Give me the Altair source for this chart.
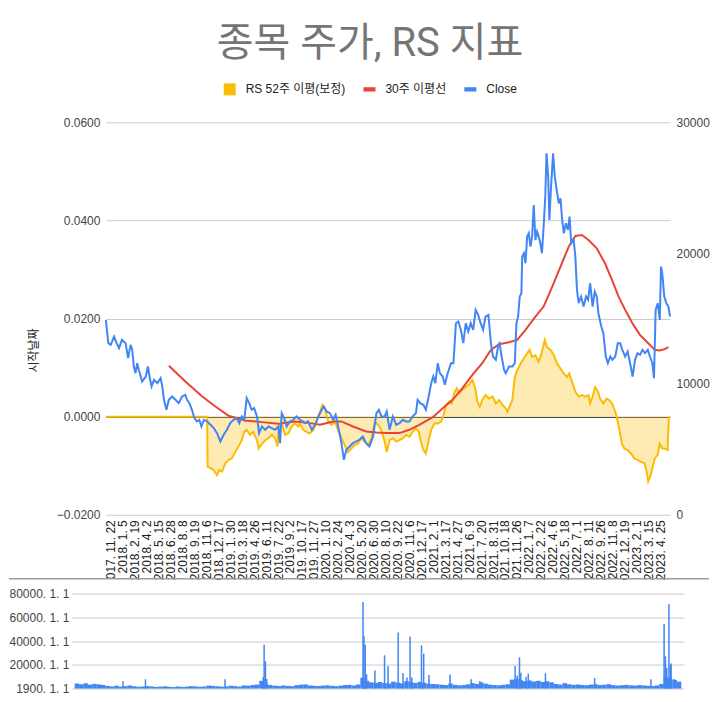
import altair as alt
import pandas as pd

TITLE = "종목 주가, RS 지표"
series_names = ["RS 52주 이평(보정)", "30주 이평선", "Close"]
series_colors = ["#fbbc04", "#ea4335", "#4285f4"]
legend_shapes = ["M-1,-1H1V1H-1Z", "M-1,-0.36H1V0.36H-1Z", "M-1,-0.36H1V0.36H-1Z"]

x_labels = ["2017. 11. 22", "2018. 1. 5", "2018. 2. 19", "2018. 4. 2", "2018. 5. 15", "2018. 6. 28",
            "2018. 8. 8", "2018. 9. 19", "2018. 11. 6", "2018. 12. 17", "2019. 1. 30", "2019. 3. 18",
            "2019. 4. 26", "2019. 6. 11", "2019. 7. 22", "2019. 9. 2", "2019. 10. 17", "2019. 11. 27",
            "2020. 1. 10", "2020. 2. 24", "2020. 4. 3", "2020. 5. 20", "2020. 6. 30", "2020. 8. 10",
            "2020. 9. 22", "2020. 11. 6", "2020. 12. 17", "2021. 2. 1", "2021. 3. 17", "2021. 4. 27",
            "2021. 6. 9", "2021. 7. 20", "2021. 8. 31", "2021. 10. 18", "2021. 11. 26", "2022. 1. 7",
            "2022. 2. 22", "2022. 4. 6", "2022. 5. 18", "2022. 7. 1", "2022. 8. 11", "2022. 9. 26",
            "2022. 11. 8", "2022. 12. 19", "2023. 2. 1", "2023. 3. 15", "2023. 4. 25"]
LABEL_STEP = 29      # trading days between axis labels
N_DAYS = 1370        # trading days shown

rs_ticks = [-0.02, 0.0, 0.02, 0.04, 0.06]
close_ticks = [0, 10000, 20000, 30000]
vol_ticks = [0, 20000, 40000, 60000, 80000]
vol_tick_labels = ["1900. 1. 1", "20000. 1. 1", "40000. 1. 1", "60000. 1. 1", "80000. 1. 1"]

# (trading day, close)
close_points = [
    (0, 14898), (6, 13116), (12, 12989), (20, 13625), (26, 13116), (32, 12734), (39, 13371), (48, 13116),
    (54, 11970), (60, 12989), (64, 12607), (68, 11334), (72, 10825), (76, 11588), (80, 11079), (88, 10188),
    (97, 10570), (102, 11334), (106, 10570), (111, 9806), (117, 10315), (125, 10061), (133, 10443), (137, 9806),
    (141, 8788), (147, 8024), (153, 8788), (161, 9042), (169, 8788), (177, 8533), (185, 9042), (193, 9170),
    (197, 8788), (203, 8533), (209, 8024), (215, 7388), (221, 7133), (227, 7260), (232, 6751), (238, 7260),
    (246, 7133), (254, 6879), (262, 6624), (270, 6242), (278, 5605), (286, 6113), (294, 6496), (302, 7006),
    (310, 7260), (318, 7388), (324, 7006), (330, 7515), (336, 7260), (342, 8915), (348, 8533), (354, 8024),
    (360, 8151), (367, 7515), (372, 6242), (379, 6751), (387, 6496), (395, 6751), (403, 6624), (411, 6496),
    (419, 6751), (423, 5478), (427, 7769), (433, 7388), (439, 6751), (447, 7133), (455, 7260), (463, 7515),
    (471, 7260), (479, 7133), (483, 7006), (491, 7133), (500, 6496), (508, 6879), (516, 7515), (524, 8024),
    (529, 8279), (536, 7897), (544, 7769), (552, 7260), (558, 7642), (564, 6751), (572, 5478), (578, 4205),
    (584, 4969), (592, 5223), (600, 5478), (608, 5605), (616, 5733), (624, 5987), (632, 5478), (640, 5223),
    (649, 5987), (657, 7769), (663, 8024), (669, 7515), (677, 7515), (682, 7897), (689, 6496), (697, 7515),
    (705, 6879), (713, 7006), (721, 7260), (729, 7133), (737, 7133), (745, 7515), (753, 7769), (757, 8788),
    (763, 8533), (771, 8406), (777, 8024), (784, 9042), (790, 10061), (795, 10570), (800, 10061), (806, 11588),
    (811, 10825), (818, 10570), (823, 9933), (830, 10825), (838, 11588), (844, 11588), (850, 14644), (856, 14771),
    (862, 14135), (868, 13116), (874, 14644), (880, 14007), (886, 14644), (892, 14135), (898, 15662), (904, 15280),
    (910, 14644), (916, 14135), (922, 15153), (929, 15280), (935, 13116), (940, 12098), (947, 11843), (953, 12989),
    (956, 13116), (961, 12098), (967, 11079), (971, 10825), (979, 11334), (987, 11334), (993, 11588), (997, 14644),
    (1001, 15153), (1005, 16680), (1009, 16935), (1011, 19736), (1015, 19990), (1019, 19226), (1023, 21263),
    (1027, 21518), (1031, 20500), (1035, 21263), (1039, 23682), (1043, 21009), (1047, 21645), (1051, 21263),
    (1055, 20754), (1059, 19990), (1063, 22027), (1067, 24320), (1070, 27628), (1074, 25846), (1077, 22536),
    (1081, 25080), (1086, 27628), (1090, 25846), (1096, 24573), (1100, 23809), (1104, 24191), (1108, 22536),
    (1112, 21518), (1117, 22282), (1122, 21772), (1126, 22791), (1130, 20754), (1136, 21009), (1140, 19736),
    (1144, 17190), (1148, 16171), (1154, 16680), (1160, 15917), (1166, 16680), (1171, 16426), (1176, 17699),
    (1182, 15917), (1187, 17063), (1192, 16680), (1196, 15407), (1203, 14389), (1208, 13880), (1214, 12098),
    (1219, 11588), (1225, 12098), (1230, 11843), (1237, 12098), (1243, 13116), (1249, 13116), (1254, 12607),
    (1261, 12098), (1267, 12480), (1273, 11588), (1279, 10570), (1285, 11843), (1291, 12352), (1297, 12225),
    (1303, 12607), (1309, 12352), (1316, 12607), (1321, 12098), (1327, 11588), (1331, 10443), (1335, 15662),
    (1340, 16171), (1345, 14898), (1348, 18972), (1351, 18463), (1356, 16680), (1361, 16171), (1366, 15917),
    (1370, 15153)]

# (trading day, 30-week moving average)
ma_points = [
    (153, 11385), (193, 10188), (234, 9042), (266, 8279), (298, 7566), (338, 7209), (379, 7082), (419, 6955),
    (459, 7133), (496, 7006), (520, 6879), (552, 7133), (572, 7133), (600, 6751), (632, 6369), (657, 6293),
    (681, 6242), (713, 6242), (737, 6496), (761, 6879), (794, 7464), (818, 8151), (842, 8788), (866, 9679),
    (890, 10698), (914, 11588), (935, 12607), (955, 13040), (979, 13193), (999, 13371), (1019, 14135),
    (1043, 15153), (1063, 15917), (1084, 17444), (1104, 18972), (1124, 20500), (1140, 21314), (1156, 21390),
    (1172, 21009), (1192, 20372), (1212, 19226), (1229, 17953), (1245, 16680), (1261, 15662), (1281, 14517),
    (1297, 13753), (1317, 13116), (1333, 12607), (1345, 12556), (1357, 12658), (1366, 12811)]

# (trading day, RS 52-week average)
rs_points = [
    (0, 0.0), (246, 0.0), (247, -0.0102), (254, -0.0105), (262, -0.0109), (270, -0.0119), (275, -0.0109),
    (282, -0.0112), (290, -0.0095), (298, -0.0088), (306, -0.0085), (314, -0.0072), (322, -0.0061),
    (330, -0.0048), (336, -0.0031), (342, -0.0027), (350, -0.0037), (358, -0.0031), (367, -0.0048),
    (371, -0.0065), (379, -0.0055), (387, -0.0048), (395, -0.0044), (403, -0.0037), (411, -0.0044),
    (417, -0.0061), (420, -0.0017), (427, -0.0014), (435, -0.0037), (443, -0.0034), (451, -0.0020),
    (459, -0.0014), (467, -0.0020), (471, -0.0014), (479, -0.0027), (487, -0.0031), (495, -0.0034),
    (504, -0.0027), (512, -0.0010), (520, 0.0010), (526, 0.0024), (532, 0.0017), (540, -0.0010),
    (548, -0.0017), (556, -0.0010), (564, -0.0027), (572, -0.0044), (580, -0.0058), (588, -0.0072),
    (596, -0.0065), (604, -0.0058), (612, -0.0055), (620, -0.0044), (628, -0.0051), (637, -0.0058),
    (645, -0.0044), (653, -0.0010), (661, -0.0017), (669, -0.0027), (677, -0.0051), (682, -0.0072),
    (689, -0.0048), (697, -0.0044), (705, -0.0051), (713, -0.0048), (721, -0.0044), (729, -0.0037),
    (737, -0.0041), (745, -0.0031), (753, -0.0024), (760, -0.0031), (765, -0.0051), (771, -0.0068),
    (777, -0.0075), (784, -0.0048), (790, -0.0027), (798, -0.0014), (806, -0.0014), (814, -0.0010),
    (819, 0.0), (826, 0.0024), (834, 0.0031), (840, 0.0027), (846, 0.0048), (852, 0.0058), (858, 0.0048),
    (866, 0.0055), (874, 0.0061), (882, 0.0065), (890, 0.0075), (897, 0.0058), (902, 0.0031), (908, 0.0020),
    (914, 0.0034), (922, 0.0044), (930, 0.0037), (939, 0.0041), (947, 0.0027), (955, 0.0034), (963, 0.0024),
    (971, 0.0017), (975, 0.0010), (980, 0.0020), (987, 0.0034), (993, 0.0081), (999, 0.0095), (1007, 0.0108),
    (1015, 0.0119), (1023, 0.0129), (1029, 0.0136), (1035, 0.0122), (1043, 0.0125), (1051, 0.0112),
    (1058, 0.0129), (1066, 0.0156), (1071, 0.0142), (1080, 0.0136), (1088, 0.0125), (1096, 0.0108),
    (1104, 0.0098), (1112, 0.0088), (1120, 0.0081), (1125, 0.0088), (1132, 0.0071), (1140, 0.0051),
    (1148, 0.0041), (1156, 0.0044), (1164, 0.0041), (1172, 0.0044), (1176, 0.0027), (1182, 0.0041),
    (1188, 0.0060), (1195, 0.0051), (1200, 0.0037), (1208, 0.0027), (1216, 0.0037), (1222, 0.0034),
    (1229, 0.0027), (1237, 0.0010), (1242, -0.0007), (1247, -0.0027), (1253, -0.0055), (1259, -0.0065),
    (1267, -0.0068), (1275, -0.0075), (1283, -0.0085), (1291, -0.0088), (1299, -0.0092), (1308, -0.0095),
    (1313, -0.0112), (1317, -0.0132), (1322, -0.0122), (1327, -0.0105), (1333, -0.0085), (1340, -0.0078),
    (1345, -0.0055), (1351, -0.0065), (1357, -0.0065), (1364, -0.0068), (1367, -0.0003), (1370, 0.0)]

# volume: one value per 10 trading days from day 0
vol_base = [4200, 3600, 4400, 3300, 3900, 3500, 3000,
            2200, 1800, 2400, 1600, 2000, 2600, 1900, 1500, 1700, 2100, 1800, 1400, 1600, 1900, 1500,
            1300, 1700, 1400, 1600, 2000, 1800, 1500, 1700, 2500, 2200, 1900, 1600, 1800, 2300, 2000,
            1700, 2600, 2400, 2900, 3300,
            6500, 4200, 3000,
            2400, 2100, 2600, 2200, 2000, 2800, 3200, 3500, 2600, 2300, 2100, 2500, 2700, 2300, 2000,
            2400, 2900, 3100, 2600, 3400,
            9000, 6500, 5200, 4800, 5500, 4600, 4200, 5800, 5000, 4400, 6200, 5300, 4700, 5600, 4900,
            4100, 3800, 3600,
            3200, 2900, 4200, 3100, 2700, 3000, 3500, 4600, 3800, 5200, 4100, 3300, 2900, 2700, 3100, 3600,
            7500, 8200, 7000, 6200, 6800, 5900, 6500, 5600, 6100, 5200,
            3800, 3300, 4500, 3600, 3100, 3400, 3000, 2800, 3300, 3600, 2900, 3200, 3700, 2900, 2600,
            2800, 3100, 2700, 2500, 2900, 2600,
            2300, 2100, 2600, 3800,
            9500, 8400, 7200, 5800]
VOL_STEP = 10
# (trading day, volume) single-day spikes
vol_spikes = [(105, 6100), (156, 7800), (337, 7800), (424, 9700), (426, 36900), (429, 23000), (432, 8000),
              (651, 73000), (653, 44400), (656, 36900), (659, 12000), (678, 15300), (700, 28000),
              (708, 18900), (731, 47200), (742, 13000), (751, 9200), (758, 43900), (762, 9200),
              (784, 36400), (789, 29400), (801, 11400), (849, 11900), (897, 7800), (917, 6400),
              (997, 18900), (1002, 11000), (1007, 26400), (1010, 13300), (1022, 10000), (1027, 12500),
              (1066, 12800), (1178, 8900), (1306, 7800), (1336, 54400), (1339, 27200), (1342, 17500),
              (1347, 71100), (1350, 19700), (1352, 21000), (1359, 8000)]

FONT = "Liberation Sans, Arial, Noto Sans CJK KR"
TOP_W, TOP_H = 565, 393
BOT_H = 95

df_close = pd.DataFrame(close_points, columns=["t", "v"])
df_ma = pd.DataFrame(ma_points, columns=["t", "v"])
df_rs = pd.DataFrame(rs_points, columns=["t", "v"])
df_vol = pd.DataFrame({"t": [i * VOL_STEP for i in range(len(vol_base))], "v": vol_base})
df_spk = pd.DataFrame(vol_spikes, columns=["t", "v"])
df_leg = pd.DataFrame({"series": series_names})

arr = "[" + ",".join("'" + s + "'" for s in x_labels) + "]"
x_label_expr = f"slice({arr}[round(datum.value / {LABEL_STEP})], -11)"
x_scale = alt.Scale(domain=[0, N_DAYS], nice=False, zero=False)
x_axis = alt.Axis(values=[k * LABEL_STEP for k in range(len(x_labels))], labelExpr=x_label_expr,
                  labelAngle=270, labelAlign="right", labelBaseline="middle", labelPadding=5,
                  labelOffset=5, ticks=False, domain=False, grid=False, title=None,
                  labelOverlap=False, labelFlush=False, labelColor="#222", labelFontSize=12)
X = alt.X("t:Q", scale=x_scale, axis=x_axis)

rs_scale = alt.Scale(domain=[-0.02, 0.06], nice=False, zero=False)
rs_axis = alt.Axis(values=rs_ticks, format=".4f", title="시작날짜", ticks=False, domain=False,
                   labelPadding=6, grid=True,
                   gridColor=alt.condition("datum.value == 0", alt.value("#333333"), alt.value("#cccccc")),
                   titleAngle=270, titleX=-72, titleY=228, titleAlign="center", titleBaseline="middle")
close_scale = alt.Scale(domain=[0, 30000], nice=False, zero=False)
close_axis = alt.Axis(orient="right", values=close_ticks, format="d", title=None, ticks=False,
                      domain=False, grid=False, labelPadding=6)

Y_rs = alt.Y("v:Q", scale=rs_scale, axis=rs_axis)
Y_close = alt.Y("v:Q", scale=close_scale, axis=close_axis)

rs_area = alt.Chart(df_rs).mark_area(color=series_colors[0], opacity=0.3).encode(x=X, y=Y_rs)
rs_line = alt.Chart(df_rs).mark_line(color=series_colors[0], strokeWidth=2).encode(x=X, y=Y_rs)
ma_line = alt.Chart(df_ma).mark_line(color=series_colors[1], strokeWidth=2).encode(x=X, y=Y_close)
close_line = alt.Chart(df_close).mark_line(color=series_colors[2], strokeWidth=2).encode(x=X, y=Y_close)

leg_props = dict(title=None, orient="none", direction="horizontal", legendX=118, legendY=-39,
                 labelFont=FONT, labelFontSize=12, labelColor="#222", symbolSize=144,
                 symbolStrokeWidth=0, symbolOpacity=1, labelOffset=10, columnPadding=18, padding=0)
legend_layer = alt.Chart(df_leg).mark_point(filled=True, opacity=0, size=144).encode(
    color=alt.Color("series:N", scale=alt.Scale(domain=series_names, range=series_colors),
                    legend=alt.Legend(**leg_props)),
    shape=alt.Shape("series:N", scale=alt.Scale(domain=series_names, range=legend_shapes),
                    legend=alt.Legend(**leg_props)),
)

top = alt.layer(
    alt.layer(rs_area, rs_line),
    alt.layer(ma_line, close_line, legend_layer),
).resolve_scale(y="independent").properties(width=TOP_W, height=TOP_H)

vol_x = alt.X("t:Q", scale=alt.Scale(domain=[0, N_DAYS], range=[-34, 579], nice=False, zero=False), axis=None)
vol_label_expr = ("[" + ",".join("'" + s + "'" for s in vol_tick_labels) + "][indexof("
                  + str(vol_ticks) + ", datum.value)]")
vol_y = alt.Y("v:Q", scale=alt.Scale(domain=[0, 80000], nice=False),
              axis=alt.Axis(values=vol_ticks, labelExpr=vol_label_expr, ticks=False, domain=False,
                            grid=True, gridColor="#cccccc", offset=32, labelPadding=5, title=None))
vol_bars = alt.Chart(df_vol).mark_bar(color=series_colors[2], size=4.5).encode(x=vol_x, y=vol_y)
spike_bars = alt.Chart(df_spk).mark_bar(color=series_colors[2], size=1.5).encode(x=vol_x, y=vol_y)
separator = alt.Chart(pd.DataFrame({"a": [0]})).mark_rule(color="#9e9e9e", strokeWidth=1.5).encode(
    x=alt.value(-97), x2=alt.value(604), y=alt.value(-15))

bottom = alt.layer(separator, vol_bars, spike_bars).properties(width=TOP_W, height=BOT_H)

chart = alt.vconcat(top, bottom, spacing=-3).properties(
    title=alt.TitleParams(TITLE, fontSize=40, font="Roboto, Noto Sans CJK KR", color="#757575",
                          fontWeight="normal", anchor="middle", offset=19, dx=11),
    padding={"left": 0, "top": 16, "right": 0, "bottom": 0},
    background="white",
).configure_view(stroke=None).configure_axis(
    labelFont=FONT, labelFontSize=12, labelColor="#444", titleFont=FONT, titleFontSize=12,
    titleColor="#222", titleFontWeight="normal",
).configure_legend(symbolOpacity=1)

chart.save("out.html", embed_options={"renderer": "svg", "actions": False})
